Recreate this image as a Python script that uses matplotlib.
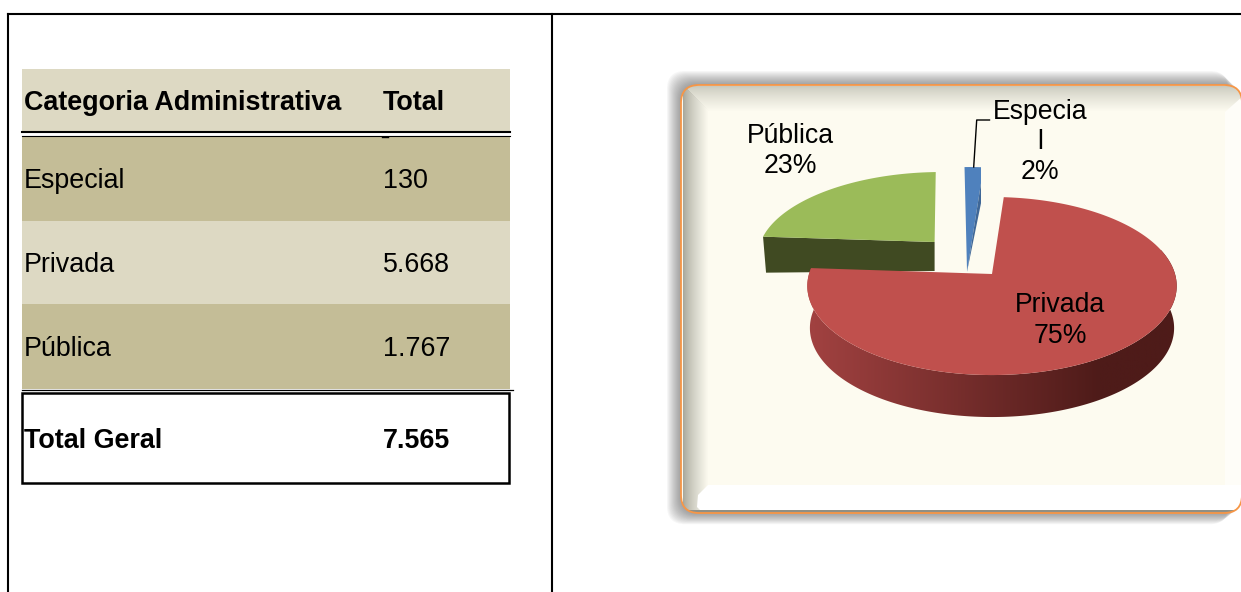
#!/usr/bin/env python
"""Table of schools by administrative category, next to a 3D-looking pie."""
import numpy as np
import matplotlib
matplotlib.use("Agg")
import matplotlib.pyplot as plt
from matplotlib.colors import to_rgb
from matplotlib.patches import FancyBboxPatch, Polygon, Rectangle

CATEGORIES = ["Especial", "Privada", "Pública"]
TOTALS = [130, 5668, 1767]
HEADERS = ["Categoria Administrativa", "Total"]
TOTAL_LABEL = "Total Geral"
PIE_LABELS = ["Especia\nl", "Privada", "Pública"]

LIGHT = "#DDD9C3"
DARK = "#C4BD97"
CREAM = "#FDFBF0"
SLICE_COLORS = ["#4F81BD", "#C0504D", "#9BBB59"]
WALL_COLORS = ["#3F6797", "#A04140", "#404A22"]
WALL_DARK = "#4E1B19"

# perspective of the pie, all in pixels
CX, CY, RX, RY, PERSP = 992, 274, 183, 87.4, 0.135
START_ANGLE = -2
EXPLODE = [(-0.145, -0.466), (0, 0), (-0.33, -0.385)]
DEPTH = [36, 42, 29]

plt.rcParams["font.family"] = ["Liberation Sans", "DejaVu Sans"]
FS = 19.4
FS_PIE = 19.2


def project(u, v):
    s = 1 / (1 - PERSP * v)
    return CX + RX * u * s, CY + RY * v * s


def thousands(n):
    return f"{n:,}".replace(",", ".")


def wedge(a0, a1, off):
    """Outline of the top of one slice: the arc, then the apex."""
    ang = np.radians(np.linspace(a0, a1, 200))
    x, y = project(off[0] + np.sin(ang), off[1] - np.cos(ang))
    ax0, ay0 = project(off[0], off[1])
    return np.column_stack([np.r_[x, ax0], np.r_[y, ay0]])


def blend(c0, c1, t):
    return np.array(to_rgb(c0)) * (1 - t) + np.array(to_rgb(c1)) * t


fig = plt.figure(figsize=(12.41, 5.92), dpi=100)
ax = fig.add_axes([0, 0, 1, 1])
ax.set_xlim(0, 1241)
ax.set_ylim(592, 0)
ax.axis("off")

# page table lines
ax.plot([8, 1241], [14, 14], color="black", lw=1.5)
ax.plot([8, 8], [14, 592], color="black", lw=1.5)
ax.plot([552, 552], [14, 592], color="black", lw=1.5)

# left table
TX0, TX1, COL2 = 22, 510, 383
ax.add_patch(Rectangle((TX0, 69), TX1 - TX0, 63, fc=LIGHT, ec="none"))
row_edges = [136, 221, 304, 389]
for i, cat in enumerate(CATEGORIES):
    y0, y1 = row_edges[i], row_edges[i + 1]
    ax.add_patch(Rectangle((TX0, y0), TX1 - TX0, y1 - y0, fc=DARK if i != 1 else LIGHT, ec="none"))
    ym = (y0 + y1) / 2 + 3
    ax.text(24, ym, cat, fontsize=FS, va="center", color="black")
    ax.text(COL2, ym, thousands(TOTALS[i]), fontsize=FS, va="center", color="black")

ax.text(24, 103, HEADERS[0], fontsize=FS, fontweight="bold", va="center")
ax.text(COL2, 103, HEADERS[1], fontsize=FS, fontweight="bold", va="center")
ax.plot([TX0, TX1], [132, 132], color="black", lw=1.5)
ax.plot([TX0, TX1], [135.5, 135.5], color="black", lw=0.8)
ax.plot([382, 388], [136.5, 136.5], color="black", lw=1)
ax.plot([TX0, 513], [390, 390], color="black", lw=0.9)
ax.add_patch(Rectangle((22, 393), 487, 90, fc="white", ec="black", lw=1.8))
ax.text(24, 441, TOTAL_LABEL, fontsize=FS, fontweight="bold", va="center")
ax.text(COL2, 441, thousands(sum(TOTALS)), fontsize=FS, fontweight="bold", va="center")

# chart frame: soft shadow, then bevel strips clipped to the rounded box
box = dict(boxstyle="round,pad=0,rounding_size=18")
for i in range(14, 0, -1):
    ax.add_patch(FancyBboxPatch((681 - i, 85 - i), 561, 428 + i * 1.8, fc="#444444",
                                ec="none", alpha=0.045, **box))
frame = FancyBboxPatch((681, 85), 561, 428, fc="white", ec="none", **box)
ax.add_patch(frame)
bevel = []
bevel.append(Rectangle((681, 85), 561, 430, fc=CREAM, ec="none"))
for i in range(26):
    t = (i / 25) ** 0.8
    bevel.append(Rectangle((683 + i, 86 + i), 560, 1.5, fc=blend("#C9C9BD", CREAM, t), ec="none"))
for i in range(26):
    t = (i / 25) ** 0.8
    bevel.append(Rectangle((683 + i, 86 + i), 1.5, 430, fc=blend("#A8A89C", CREAM, t), ec="none"))
bevel.append(Polygon([(1225, 112), (1243, 96), (1243, 486), (1225, 486)], fc="#FEFDF8", ec="none"))
bevel.append(Polygon([(708, 485), (1243, 485), (1243, 515), (705, 515), (697, 507), (698, 495)], fc="white", ec="none"))
bevel.append(Rectangle((681, 510), 561, 4, fc="#8F8F85", ec="none"))
for p in bevel:
    ax.add_patch(p)
    p.set_clip_path(frame)
ax.add_patch(FancyBboxPatch((681, 85), 561, 428, fc="none", ec="#F79646", lw=1.3, **box))

# slices, back to front
fracs = np.array(TOTALS) / sum(TOTALS)
ends = START_ANGLE + np.cumsum(fracs) * 360
starts = np.r_[START_ANGLE, ends[:-1]]

# Pública
pts = wedge(starts[2], ends[2], EXPLODE[2])
ax.add_patch(Polygon(np.column_stack([[pts[0, 0], pts[0, 0] + 3, pts[-1, 0], pts[-1, 0]],
                                      [pts[0, 1], pts[0, 1] + DEPTH[2] + 7, pts[-1, 1] + DEPTH[2], pts[-1, 1]]]),
                     fc=WALL_COLORS[2], ec="none"))
ax.add_patch(Polygon(pts, fc=SLICE_COLORS[2], ec="none"))

# Privada: side wall as a left-to-right shade clipped to the wall outline, then the top
ang = np.radians(np.linspace(starts[1], ends[1], 361))
wx, wy = project(np.sin(ang), -np.cos(ang))
wall = Polygon(np.r_[np.column_stack([wx, wy]),
                     np.column_stack([CX + (wx - CX) * 0.986, wy + DEPTH[1]])[::-1]], fc="none", ec="none")
ax.add_patch(wall)
ts = np.clip((1100 - np.linspace(800, 1190, 400)) / (1100 - 815), 0, 1)
grad = np.array([blend(WALL_DARK, WALL_COLORS[1], t) for t in ts])[None, :, :]
img = ax.imshow(grad, extent=(800, 1190, 470, 250), aspect="auto", zorder=1)
img.set_clip_path(wall)
ax.set_xlim(0, 1241)
ax.set_ylim(592, 0)
ax.add_patch(Polygon(wedge(starts[1], ends[1], EXPLODE[1]), fc=SLICE_COLORS[1], ec="none"))

# Especial
pts = wedge(starts[0], ends[0], EXPLODE[0])
tr, apex, d = pts[199], pts[-1], DEPTH[0]
ax.add_patch(Polygon(np.r_[pts[:200], [(tr[0], tr[1] + 16), (apex[0], apex[1] + d)]], fc=SLICE_COLORS[0], ec="none"))
ax.add_patch(Polygon([(tr[0], tr[1] + 16), (tr[0], tr[1] + d), (apex[0], apex[1] + d)], fc=WALL_COLORS[0], ec="none"))

# leader line and data labels
ax.plot([989.5, 976.7, 973.7], [120, 120, 167], color="black", lw=1)
label_pos = [(1040, 142), (1060, 320.5), (790, 151)]
for lab, frac, (lx, ly) in zip(PIE_LABELS, fracs, label_pos):
    ax.text(lx, ly, f"{lab}\n{frac * 100:.0f}%", fontsize=FS_PIE, ha="center", va="center",
            linespacing=1.22, color="black")

fig.savefig("out.png", dpi=100)
